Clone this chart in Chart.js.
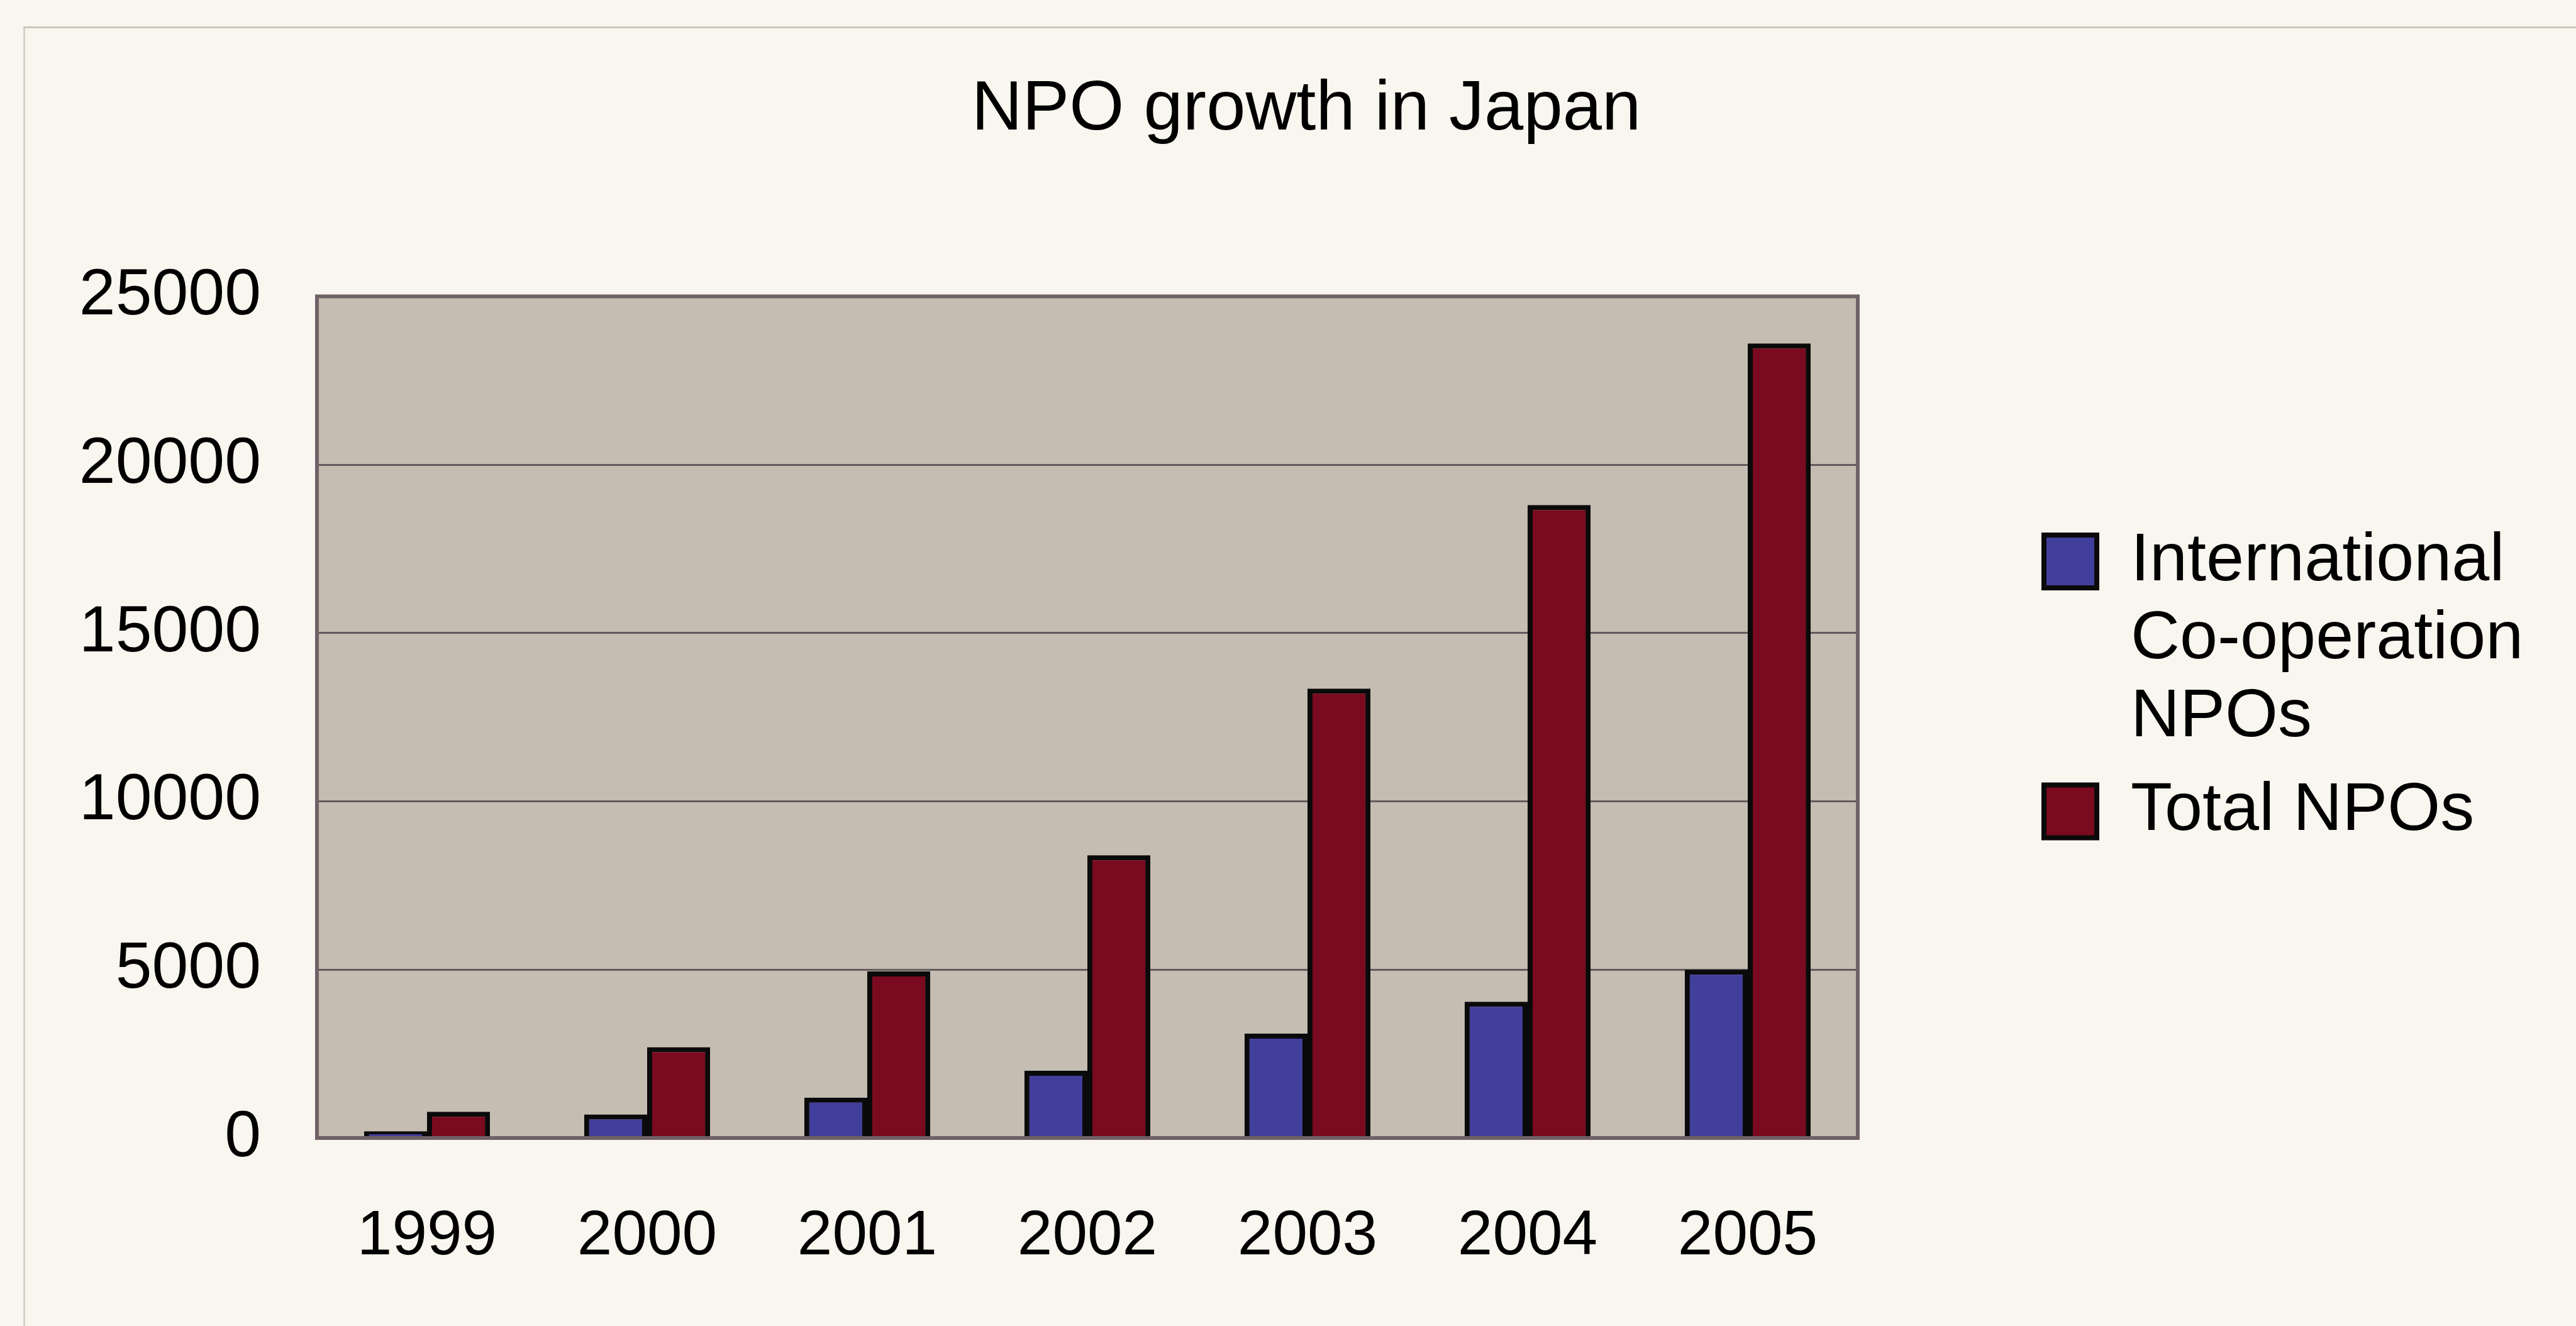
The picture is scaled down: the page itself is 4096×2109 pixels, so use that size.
<!DOCTYPE html>
<html>
<head>
<meta charset="utf-8">
<title>NPO growth in Japan</title>
<script src="https://cdn.jsdelivr.net/npm/chart.js@4.4.1/dist/chart.umd.min.js"></script>
<style>
  html, body { margin: 0; padding: 0; background: #f8f6ee; overflow: hidden; }
  #frame {
    position: absolute; left: 37px; top: 42px; width: 5000px; height: 3000px;
    border-top: 3px solid #cdc8bb; border-left: 3px solid #d6d2c6;
  }
  #wrap { position: absolute; left: 0; top: 0; width: 4096px; height: 2109px; }
</style>
</head>
<body>
<div id="frame"></div>
<div id="wrap"><canvas id="chart" width="4096" height="2109"></canvas></div>
<script>
// data
const years = ['1999', '2000', '2001', '2002', '2003', '2004', '2005'];
const intlNpos = [200, 700, 1200, 2000, 3100, 4050, 5000];
const totalNpos = [780, 2700, 4950, 8400, 13350, 18800, 23600];
const yTicks = [0, 5000, 10000, 15000, 20000, 25000];
const seriesNames = ['International Co-operation NPOs', 'Total NPOs'];
// trailing spaces keep the first line the "longest" one, so the legend box is wide enough for "Co-operation"
const legendLines = [['International  ', 'Co-operation', 'NPOs'], ['Total NPOs']];

const FONT = "'Liberation Sans', Arial, sans-serif";
const LEGEND_SIZE = 108;
const BOX = 84;
const LEGEND_PAD = 25;

// layout targets (px)
const PLOT_LEFT = 504, PLOT_RIGHT = 2954, GAP = 271;

const measure = document.createElement('canvas').getContext('2d');
measure.font = `${LEGEND_SIZE}px ${FONT}`;
const legendWidth = LEGEND_PAD + BOX + LEGEND_SIZE / 2 + measure.measureText(legendLines[0][0]).width + 10;
const padRight = Math.max(0, 4096 - PLOT_RIGHT - GAP - legendWidth);
const padLeft = padRight + 58;

// plot area fill + frame, like the Excel chart
const plotArea = {
  id: 'plotArea',
  beforeDraw(chart) {
    const { ctx, chartArea: a } = chart;
    ctx.save();
    ctx.fillStyle = '#c5bcb2';
    ctx.fillRect(a.left, a.top, a.right - a.left, a.bottom - a.top);
    ctx.restore();
  },
  afterDatasetsDraw(chart) {
    const { ctx, chartArea: a } = chart;
    ctx.save();
    ctx.strokeStyle = '#6f6165';
    ctx.lineWidth = 6;
    ctx.strokeRect(a.left, a.top, a.right - a.left, a.bottom - a.top);
    ctx.restore();
  }
};

new Chart(document.getElementById('chart'), {
  type: 'bar',
  data: {
    labels: years,
    datasets: [
      {
        label: seriesNames[0],
        data: intlNpos,
        backgroundColor: '#423e9c',
        borderColor: '#0a0a0a',
        borderWidth: 8
      },
      {
        label: seriesNames[1],
        data: totalNpos,
        backgroundColor: '#7a0a1f',
        borderColor: '#0a0a0a',
        borderWidth: 8
      }
    ]
  },
  options: {
    responsive: false,
    devicePixelRatio: 1,
    animation: false,
    layout: { padding: { left: padLeft, right: padRight, top: 100, bottom: 9.4 } },
    datasets: { bar: { categoryPercentage: 0.572, barPercentage: 1 } },
    plugins: {
      title: {
        display: true,
        text: 'NPO growth in Japan',
        color: '#000',
        font: { family: FONT, size: 112, weight: 'normal', lineHeight: 1.2 },
        padding: { top: 8, bottom: 229 }
      },
      legend: {
        position: 'right',
        align: 'center',
        fullSize: true,
        maxWidth: legendWidth + 1,
        labels: {
          color: '#000',
          boxWidth: BOX,
          boxHeight: BOX,
          padding: LEGEND_PAD,
          font: { family: FONT, size: LEGEND_SIZE, lineHeight: 1.15 },
          generateLabels: chart => Chart.defaults.plugins.legend.labels.generateLabels(chart)
            .map((item, i) => ({ ...item, text: legendLines[i] }))
        }
      },
      tooltip: { enabled: false }
    },
    scales: {
      x: {
        grid: { display: false, drawTicks: false },
        border: { display: false },
        ticks: { color: '#000', padding: 97, font: { family: FONT, size: 100, lineHeight: 1.2 } },
        afterFit: s => { s.height = 289.6; }
      },
      y: {
        min: 0,
        max: 25000,
        afterBuildTicks: s => { s.ticks = yTicks.map(v => ({ value: v })); },
        grid: { color: '#625a5c', lineWidth: 3, drawTicks: false },
        border: { display: false },
        ticks: {
          color: '#000',
          padding: 89,
          font: { family: FONT, size: 104, lineHeight: 1.2 },
          callback: v => String(v)
        },
        afterFit: s => { s.width = PLOT_LEFT - padLeft; }
      },
      // empty right-hand axis: only holds the gap between plot and legend
      gap: {
        type: 'linear',
        position: 'right',
        display: true,
        grid: { display: false, drawTicks: false },
        border: { display: false },
        ticks: { display: false },
        afterFit: s => { s.width = GAP; }
      }
    }
  },
  plugins: [plotArea]
});
</script>
</body>
</html>
